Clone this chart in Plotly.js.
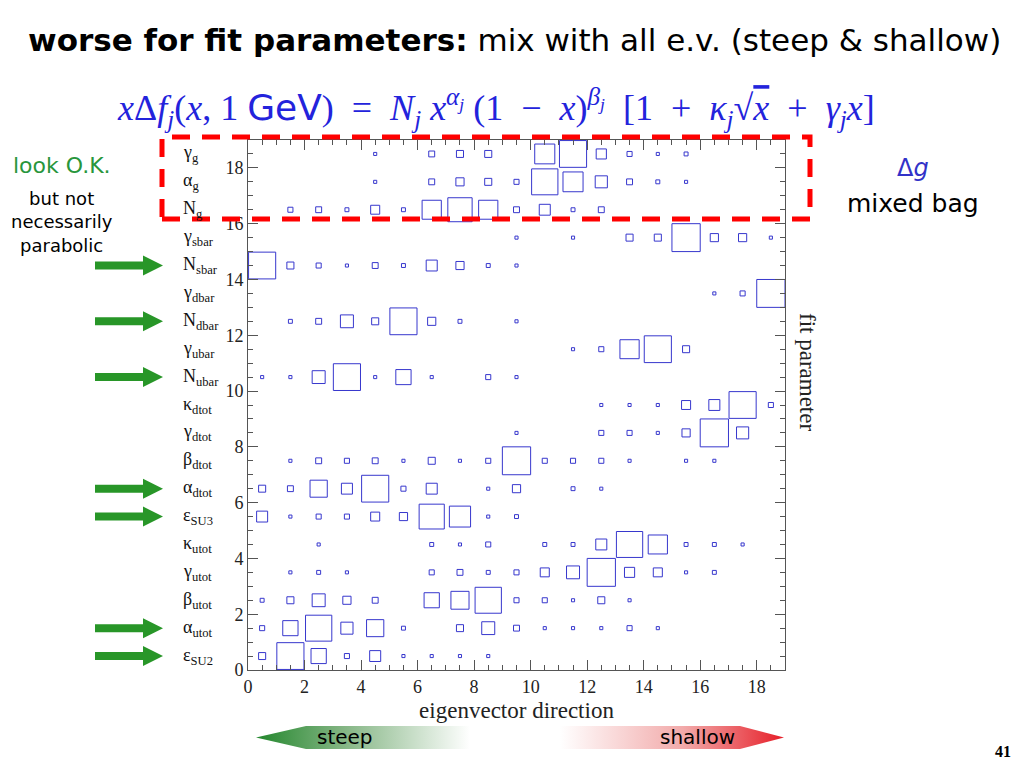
<!DOCTYPE html>
<html>
<head>
<meta charset="utf-8">
<script src="https://cdn.plot.ly/plotly-3.0.1.min.js"></script>
<style>html,body{margin:0;padding:0;background:#fff;}#chart{width:1024px;height:768px;}</style>
</head>
<body>
<div id="chart"></div>
<script>
// ---------- data ----------
const paramLabels = ['ε<sub>SU2</sub>','α<sub>utot</sub>','β<sub>utot</sub>','γ<sub>utot</sub>','κ<sub>utot</sub>',
  'ε<sub>SU3</sub>','α<sub>dtot</sub>','β<sub>dtot</sub>','γ<sub>dtot</sub>','κ<sub>dtot</sub>',
  'N<sub>ubar</sub>','γ<sub>ubar</sub>','N<sub>dbar</sub>','γ<sub>dbar</sub>','N<sub>sbar</sub>',
  'γ<sub>sbar</sub>','N<sub>g</sub>','α<sub>g</sub>','γ<sub>g</sub>'];
const eigenDirections = [0,1,2,3,4,5,6,7,8,9,10,11,12,13,14,15,16,17,18];
// magnitude of each fit parameter (row) in each eigenvector direction (column), 1 = full cell
const weights = [
  [0.25,0.96,0.54,0.18,0.39,0.11,0.11,0.11,0.11,0,0,0,0,0,0,0,0,0,0],          // eps SU2
  [0.18,0.54,0.93,0.43,0.61,0.14,0,0.25,0.46,0.21,0.11,0.11,0.11,0.18,0.11,0,0,0,0], // alpha utot
  [0.14,0.25,0.46,0.29,0.21,0,0.54,0.64,0.93,0.18,0.18,0.11,0.25,0.11,0,0,0,0,0], // beta utot
  [0,0.11,0.14,0.11,0,0,0.18,0.21,0.14,0.18,0.32,0.46,1.0,0.36,0.32,0.11,0.14,0,0], // gamma utot
  [0,0,0.11,0,0,0,0.14,0.11,0.18,0,0.14,0.14,0.39,0.93,0.68,0.14,0.14,0.11,0],  // kappa utot
  [0.39,0.11,0.18,0.18,0.32,0.29,0.89,0.75,0.11,0.14,0,0,0,0,0,0,0,0,0],       // eps SU3
  [0.25,0.21,0.61,0.39,0.96,0.18,0.39,0,0.11,0.29,0,0.14,0.11,0,0,0,0,0,0],     // alpha dtot
  [0,0.11,0.21,0.18,0.21,0.11,0.25,0.11,0.18,1.0,0.18,0.18,0.18,0.11,0,0.11,0.11,0,0], // beta dtot
  [0,0,0,0,0,0,0,0,0,0.11,0,0,0.18,0.18,0.11,0.29,1.0,0.43,0],                  // gamma dtot
  [0,0,0,0,0,0,0,0,0,0,0,0,0.11,0.11,0.11,0.32,0.39,0.96,0.18],                 // kappa dtot
  [0.11,0.11,0.46,0.96,0.11,0.54,0.11,0,0.18,0.11,0,0,0,0,0,0,0,0,0],          // N ubar
  [0,0,0,0,0,0,0,0,0,0,0,0.11,0.18,0.68,0.96,0.25,0,0,0],                       // gamma ubar
  [0,0.14,0.21,0.46,0.25,0.96,0.29,0.14,0,0.11,0,0,0,0,0,0,0,0,0],             // N dbar
  [0,0,0,0,0,0,0,0,0,0,0,0,0,0,0,0,0.11,0.18,1.0],                              // gamma dbar
  [0.96,0.25,0.18,0.11,0.21,0.14,0.39,0.29,0.14,0.11,0,0,0,0,0,0,0,0,0],       // N sbar
  [0,0,0,0,0,0,0,0,0,0.11,0,0.11,0,0.25,0.25,1.0,0.29,0.29,0.11],              // gamma sbar
  [0,0.18,0.21,0.14,0.32,0.14,0.68,0.86,0.68,0.21,0.39,0.14,0.21,0,0,0,0,0,0], // N g
  [0,0,0,0,0.11,0,0.21,0.29,0.25,0.18,0.93,0.71,0.43,0.21,0.14,0.11,0,0,0],    // alpha g
  [0,0,0,0,0.11,0,0.21,0.25,0.25,0,0.71,0.96,0.36,0.18,0.11,0.14,0,0,0]        // gamma g
];
const markedRows = [0,1,5,6,10,12,14];   // parameters flagged with green arrows
const xTickVals = [0,2,4,6,8,10,12,14,16,18];
const yTickVals = [0,2,4,6,8,10,12,14,16,18];

// ---------- build ----------
const xs = [], ys = [];
weights.forEach((row, r) => row.forEach((v, c) => {
  if (!v) return;
  const cx = eigenDirections[c] + 0.5, cy = r + 0.5, h = v / 2;
  xs.push(cx - h, cx + h, cx + h, cx - h, cx - h, null);
  ys.push(cy - h, cy - h, cy + h, cy + h, cy - h, null);
}));

// page pixel -> paper helpers (plot area: x 248..785, y 140..750)
const PX = x => (x - 248) / 537;
const PY = y => (750 - y) / 610;
const comic = '"DejaVu Sans", sans-serif';
const serif = '"Liberation Serif", "DejaVu Serif", serif';

const traces = [
  { type: 'scatter', mode: 'lines', x: xs, y: ys, xaxis: 'x', yaxis: 'y',
    line: { color: 'rgb(55,55,205)', width: 1 }, hoverinfo: 'skip', showlegend: false },
  // gradient arrows (decoration) drawn on a pixel-scaled helper axis
  { type: 'scatter', mode: 'lines', xaxis: 'x2', yaxis: 'y2', fill: 'toself',
    x: [256, 306, 470, 470, 306, 256], y: [737.5, 726, 726, 749, 749, 737.5],
    line: { width: 0 }, hoverinfo: 'skip', showlegend: false,
    fillgradient: { type: 'horizontal', colorscale: [[0, 'rgb(35,135,45)'], [0.4, 'rgb(130,180,130)'], [1, 'rgba(255,255,255,1)']] } },
  { type: 'scatter', mode: 'lines', xaxis: 'x2', yaxis: 'y2', fill: 'toself',
    x: [560, 740, 784, 740, 560, 560], y: [726, 726, 737.5, 749, 749, 726],
    line: { width: 0 }, hoverinfo: 'skip', showlegend: false,
    fillgradient: { type: 'horizontal', colorscale: [[0, 'rgba(255,255,255,1)'], [0.55, 'rgb(242,170,170)'], [1, 'rgb(230,30,40)']] } }
];

const sp = '&nbsp;', sp2 = '&nbsp;&nbsp;';
const annotations = [];
paramLabels.forEach((lab, r) => annotations.push({
  xref: 'paper', yref: 'y', x: PX(181), y: r + 0.5, xanchor: 'left', yanchor: 'middle',
  text: lab, showarrow: false, font: { family: serif, size: 18, color: '#111' }
}));
annotations.push(
  { xref: 'paper', yref: 'paper', x: PX(514), y: PY(40), xanchor: 'center', yanchor: 'middle', showarrow: false,
    text: '<b>worse for fit parameters:</b> mix with all e.v. (steep &amp; shallow)', font: { family: comic, size: 31, color: '#000' } },
  { xref: 'paper', yref: 'paper', x: PX(496), y: PY(108), xanchor: 'center', yanchor: 'middle', showarrow: false,
    text: '<i>x</i>Δ<i>f<sub>j</sub></i>(<i>x</i>,' + sp + '1' + sp + '<span style="font-family:DejaVu Sans">GeV</span>)' + sp2 + '=' + sp2 +
      '<i>N<sub>j</sub></i>' + sp + '<i>x</i><sup><i>α<sub>j</sub></i></sup>' + sp + '(1' + sp2 + '−' + sp2 + '<i>x</i>)<sup><i>β<sub>j</sub></i></sup>' + sp2 +
      '[1' + sp2 + '+' + sp2 + '<i>κ<sub>j</sub></i>√<span style="text-decoration:overline"><i>x</i></span>' + sp2 + '+' + sp2 + '<i>γ<sub>j</sub>x</i>]',
    font: { family: serif, size: 36, color: 'rgb(35,35,220)' } },
  { xref: 'paper', yref: 'paper', x: PX(62), y: PY(165), xanchor: 'center', yanchor: 'middle', showarrow: false,
    text: 'look O.K.', font: { family: comic, size: 22, color: 'rgb(40,150,60)' } },
  { xref: 'paper', yref: 'paper', x: PX(62), y: PY(222), xanchor: 'center', yanchor: 'middle', showarrow: false,
    text: 'but not<br>necessarily<br>parabolic', font: { family: comic, size: 18, color: '#000' } },
  { xref: 'paper', yref: 'paper', x: PX(913), y: PY(168), xanchor: 'center', yanchor: 'middle', showarrow: false,
    text: 'Δ<i>g</i>', font: { family: comic, size: 24, color: 'rgb(50,50,200)' } },
  { xref: 'paper', yref: 'paper', x: PX(913), y: PY(203), xanchor: 'center', yanchor: 'middle', showarrow: false,
    text: 'mixed bag', font: { family: comic, size: 25, color: '#000' } },
  { xref: 'paper', yref: 'paper', x: PX(808), y: PY(372), xanchor: 'center', yanchor: 'middle', showarrow: false,
    text: 'fit parameter', textangle: 90, font: { family: serif, size: 23, color: '#222' } },
  { xref: 'paper', yref: 'paper', x: PX(345), y: PY(737), xanchor: 'center', yanchor: 'middle', showarrow: false,
    text: 'steep', font: { family: comic, size: 20, color: '#000' } },
  { xref: 'paper', yref: 'paper', x: PX(697), y: PY(737), xanchor: 'center', yanchor: 'middle', showarrow: false,
    text: 'shallow', font: { family: comic, size: 20, color: '#000' } },
  { xref: 'paper', yref: 'paper', x: PX(1003), y: PY(751), xanchor: 'center', yanchor: 'middle', showarrow: false,
    text: '<b>41</b>', font: { family: serif, size: 16, color: '#000' } }
);

const shapes = [];
const sH = 4 / 27.9, hH = 10 / 27.9;
markedRows.forEach(r => {
  const y = r + 0.5, x0 = PX(95), x1 = PX(143), x2 = PX(163);
  shapes.push({ type: 'path', xref: 'paper', yref: 'y', fillcolor: 'rgb(40,150,40)', line: { width: 0 },
    path: `M${x0},${y - sH} L${x1},${y - sH} L${x1},${y - hH} L${x2},${y} L${x1},${y + hH} L${x1},${y + sH} L${x0},${y + sH} Z` });
});
shapes.push({ type: 'rect', xref: 'paper', yref: 'paper', x0: PX(162), x1: PX(810), y0: PY(219), y1: PY(137),
  line: { color: 'rgb(255,0,0)', width: 5, dash: '18px,12px' }, fillcolor: 'rgba(0,0,0,0)' });

const layout = {
  width: 1024, height: 768,
  margin: { l: 248, r: 239, t: 140, b: 18 },
  paper_bgcolor: '#fff', plot_bgcolor: '#fff', showlegend: false,
  xaxis: { domain: [0, 1], anchor: 'y', range: [0, 19], tickvals: xTickVals, ticks: 'inside', ticklen: 10,
    tickcolor: '#555', showline: true, linecolor: '#555', linewidth: 1, mirror: 'ticks', showgrid: false, zeroline: false,
    minor: { dtick: 0.5, tick0: 0, ticks: 'inside', ticklen: 5, tickcolor: '#555', showgrid: false },
    tickfont: { family: serif, size: 18, color: '#222' },
    title: { text: 'eigenvector direction', font: { family: serif, size: 23, color: '#222' }, standoff: 6 } },
  yaxis: { domain: [PY(670), 1], anchor: 'x', range: [0, 19], tickvals: yTickVals, ticks: 'inside', ticklen: 10,
    tickcolor: '#555', showline: true, linecolor: '#555', linewidth: 1, mirror: 'ticks', showgrid: false, zeroline: false,
    minor: { dtick: 0.5, tick0: 0, ticks: 'inside', ticklen: 5, tickcolor: '#555', showgrid: false },
    tickfont: { family: serif, size: 18, color: '#222' } },
  xaxis2: { domain: [0, 1], anchor: 'y2', range: [248, 785], visible: false, fixedrange: true },
  yaxis2: { domain: [0, 28 / 610], anchor: 'x2', range: [750, 722], visible: false, fixedrange: true },
  annotations: annotations,
  shapes: shapes
};

Plotly.newPlot('chart', traces, layout, { staticPlot: true, displayModeBar: false });
</script>
</body>
</html>
